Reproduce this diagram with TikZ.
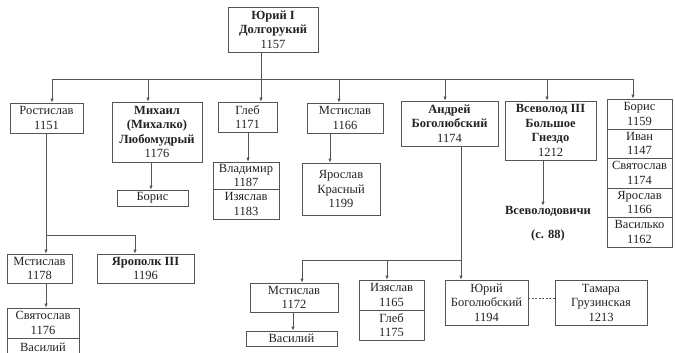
\documentclass[tikz,border=0pt]{standalone}
\usepackage{fontspec}
\setmainfont{Liberation Serif}
\usetikzlibrary{arrows.meta}
\definecolor{ln}{HTML}{555555}
\definecolor{tx}{HTML}{222222}
\tikzset{
  box/.style={draw=ln, line width=0.8pt, align=center, inner sep=0pt, text=tx,
    font=\fontsize{12.5}{14.5}\selectfont},
  conn/.style={draw=ln, line width=0.8pt},
  arr/.style={conn, -{Latex[length=4pt,width=3.5pt]}},
  lbl/.style={text=tx, inner sep=0pt, font=\fontsize{12.5}{14.5}\selectfont\bfseries},
}
\begin{document}
\begin{tikzpicture}[x=1pt,y=-1pt]
\useasboundingbox (0,0) rectangle (675,353);
% top
\node[box, minimum width=90pt, minimum height=45pt] (yuri) at (273,29.5) {\textbf{Юрий I}\\\textbf{Долгорукий}\\1157};
% row 1
\node[box, minimum width=73pt, minimum height=30pt] (rost) at (46.5,118) {Ростислав\\1151};
\node[box, minimum width=90pt, minimum height=60pt] (mikh) at (157,132) {\textbf{Михаил}\\\textbf{(Михалко)}\\\textbf{Любомудрый}\\1176};
\node[box, minimum width=59pt, minimum height=30pt] (gleb) at (247.5,117) {Глеб\\1171};
\node[box, minimum width=76pt, minimum height=30pt] (mst1) at (345,118) {Мстислав\\1166};
\node[box, minimum width=97pt, minimum height=45pt] (andr) at (449.5,123.5) {\textbf{Андрей}\\\textbf{Боголюбский}\\1174};
\node[box, minimum width=91pt, minimum height=59pt] (vsev) at (550.5,130.5) {\textbf{Всеволод III}\\\textbf{Большое}\\\textbf{Гнездо}\\1212};
% right column
\node[box, minimum width=65pt, minimum height=30pt] (borisA) at (639.5,114) {Борис\\1159};
\node[box, minimum width=65pt, minimum height=29pt] (ivan) at (639.5,143.5) {Иван\\1147};
\node[box, minimum width=65pt, minimum height=30pt] (svyatA) at (639.5,173) {Святослав\\1174};
\node[box, minimum width=65pt, minimum height=29pt] (yarA) at (639.5,202.5) {Ярослав\\1166};
\node[box, minimum width=65pt, minimum height=30pt] (vasilko) at (639.5,232) {Василько\\1162};
% row 2
\node[box, minimum width=71pt, minimum height=16pt] (borisB) at (152.5,198) {Борис};
\node[box, minimum width=66pt, minimum height=27pt] (vlad) at (246,175.5) {Владимир\\1187};
\node[box, minimum width=66pt, minimum height=30pt] (izyaA) at (246,204) {Изяслав\\1183};
\node[box, minimum width=78pt, minimum height=52pt] (yarkr) at (341,189) {Ярослав\\Красный\\1199};
\node[lbl] (vsevich) at (548,211) {Всеволодовичи};
\node[lbl] (page) at (548,235) {(с. 88)};
% row 3
\node[box, minimum width=65pt, minimum height=29pt] (mstB) at (39.5,268.5) {Мстислав\\1178};
\node[box, minimum width=97pt, minimum height=29pt] (yarop) at (145.5,268.5) {\textbf{Ярополк III}\\1196};
\node[box, minimum width=72pt, minimum height=30pt] (svyatB) at (43,323) {Святослав\\1176};
\node[box, minimum width=72pt, minimum height=17pt, anchor=north] (vasA) at (43,338) {Василий};
\node[box, minimum width=88pt, minimum height=29pt] (mstC) at (294,297.5) {Мстислав\\1172};
\node[box, minimum width=91pt, minimum height=15pt] (vasB) at (291.5,338.5) {Василий};
\node[box, minimum width=65pt, minimum height=30pt] (izyaB) at (391.5,295) {Изяслав\\1165};
\node[box, minimum width=65pt, minimum height=30pt] (glebB) at (391.5,325) {Глеб\\1175};
\node[box, minimum width=83pt, minimum height=45pt] (yurib) at (486.5,302.5) {Юрий\\Боголюбский\\1194};
\node[box, minimum width=92pt, minimum height=45pt] (tamara) at (601,302.5) {Тамара\\Грузинская\\1213};
% main bus
\coordinate (b1) at (52,79);
\coordinate (b2) at (148,79);
\coordinate (b3) at (261,79);
\coordinate (b4) at (339,79);
\coordinate (b5) at (445,79);
\coordinate (b6) at (547,79);
\coordinate (b7) at (633,79);
\draw[conn] (b1) -- (b7);
\draw[arr] (yuri.south -| b3) -- (b3 |- gleb.north);
\draw[arr] (b1) -- (b1 |- rost.north);
\draw[arr] (b2) -- (b2 |- mikh.north);
\draw[arr] (b4) -- (b4 |- mst1.north);
\draw[arr] (b5) -- (b5 |- andr.north);
\draw[arr] (b6) -- (b6 |- vsev.north);
\draw[arr] (b7) -- (b7 |- borisA.north);
% Rostislav
\coordinate (r1) at (46,235);
\coordinate (r2) at (135,235);
\draw[conn] (rost.south -| r1) -- (r1) -- (r2);
\draw[arr] (r1) -- (r1 |- mstB.north);
\draw[arr] (r2) -- (r2 |- yarop.north);
\draw[arr] (mstB.south -| r1) -- (r1 |- svyatB.north);
% Mikhail, Gleb, Mstislav
\coordinate (m1) at (151,0);
\draw[arr] (mikh.south -| m1) -- (m1 |- borisB.north);
\coordinate (g1) at (248,0);
\draw[arr] (gleb.south -| g1) -- (g1 |- vlad.north);
\coordinate (s1) at (330,0);
\draw[arr] (mst1.south -| s1) -- (s1 |- yarkr.north);
% Andrey
\coordinate (a1) at (461,260);
\coordinate (a2) at (302,260);
\coordinate (a3) at (387,260);
\draw[arr] (andr.south -| a1) -- (a1 |- yurib.north);
\draw[conn] (a1) -- (a2);
\draw[arr] (a2) -- (a2 |- mstC.north);
\draw[arr] (a3) -- (a3 |- izyaB.north);
\coordinate (c1) at (293,0);
\draw[arr] (mstC.south -| c1) -- (c1 |- vasB.north);
% Vsevolod
\coordinate (v1) at (543,0);
\draw[arr] (vsev.south -| v1) -- (v1 |- vsevich.north);
% marriage
\draw[conn, dashed, dash pattern=on 2pt off 1.5pt] (yurib.east |- 0,298) -- (tamara.west |- 0,298);
\end{tikzpicture}
\end{document}
